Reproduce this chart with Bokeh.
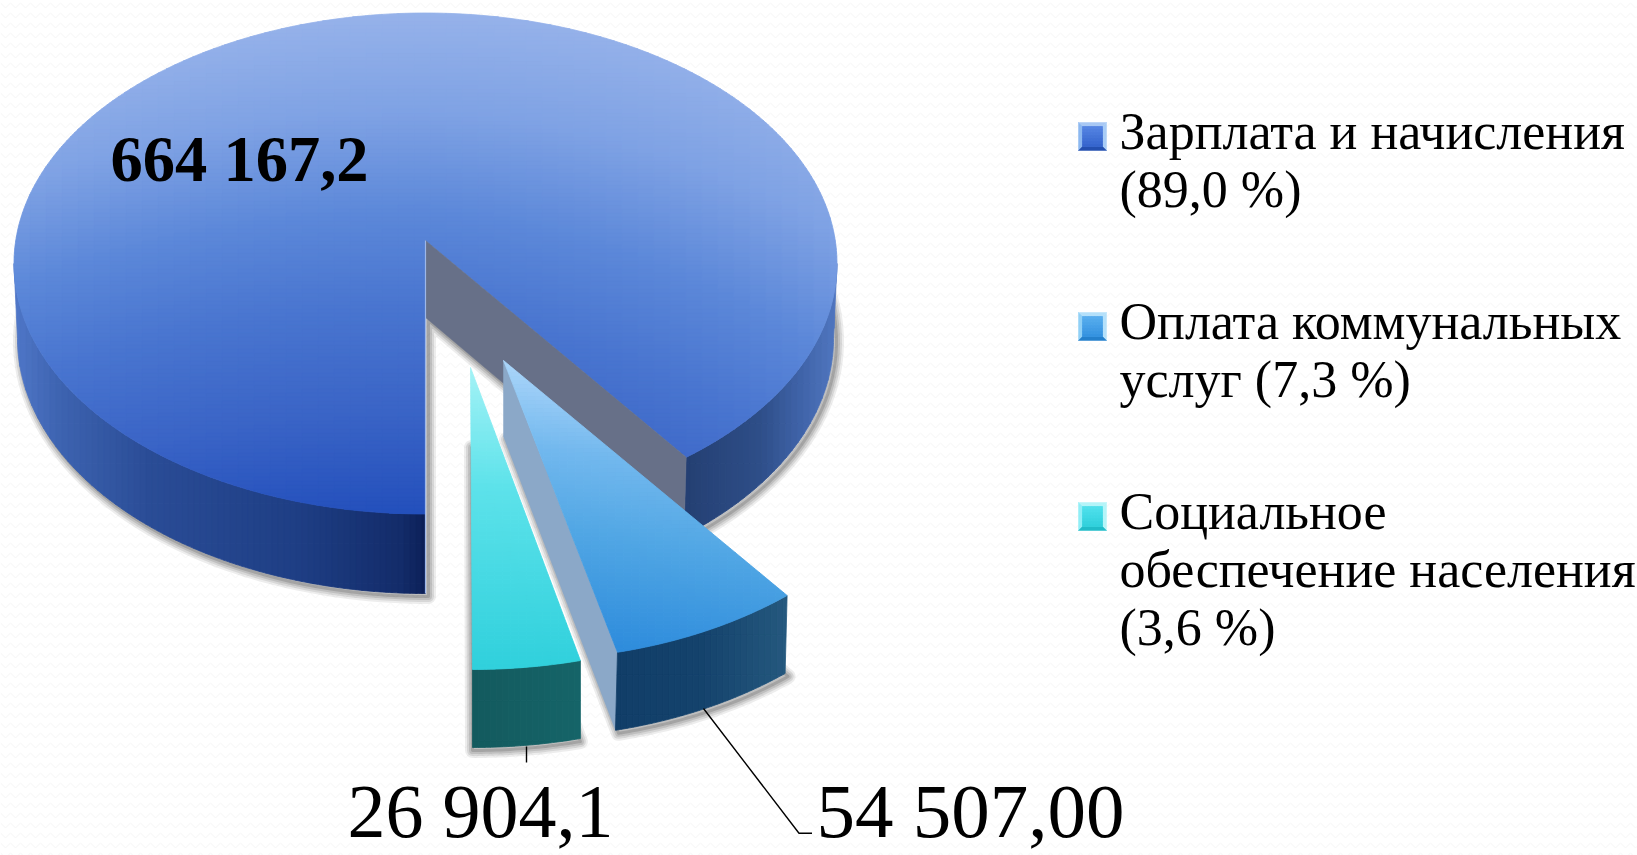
import numpy as np
from bokeh.plotting import figure
from bokeh.models import Range1d, ColumnDataSource
from bokeh.core.properties import value
from bokeh.embed import file_html
from bokeh.resources import INLINE

# ---------- data ----------
categories = ["Зарплата и начисления", "Оплата коммунальных услуг", "Социальное обеспечение населения"]
amounts = [664167.2, 54507.0, 26904.1]
value_labels = ["664 167,2", "54 507,00", "26 904,1"]
legend_lines = [["Зарплата и начисления", "(89,0 %)"],
                ["Оплата коммунальных", "услуг (7,3 %)"],
                ["Социальное", "обеспечение населения", "(3,6 %)"]]

FONT = "Liberation Serif"
total = sum(amounts)
th3 = amounts[2] / total * 360
th2 = th3 + amounts[1] / total * 360


# ---------- helpers ----------
def hex2rgb(h):
    return np.array([int(h[i:i + 2], 16) for i in (1, 3, 5)], float)


def ramp(stops):
    ts = [s[0] for s in stops]
    cs = np.array([hex2rgb(s[1]) for s in stops])

    def f(t):
        return "#%02x%02x%02x" % tuple(int(round(np.interp(t, ts, cs[:, i]))) for i in range(3))
    return f


def arc(cx, cy, rx, ry, a, b, n=90):
    t = np.radians(np.linspace(a, b, n))
    return list(zip(cx + rx * np.sin(t), cy + ry * np.cos(t)))


def clip_half(poly, axis, lim, keep_low):
    out = []
    for i in range(len(poly)):
        p, q = poly[i], poly[(i + 1) % len(poly)]
        pin = p[axis] <= lim if keep_low else p[axis] >= lim
        qin = q[axis] <= lim if keep_low else q[axis] >= lim
        if pin:
            out.append(p)
        if pin != qin:
            k = (lim - p[axis]) / (q[axis] - p[axis])
            out.append((p[0] + k * (q[0] - p[0]), p[1] + k * (q[1] - p[1])))
    return out


def shaded(p, poly, colorfn, cell=10, celly=None):
    celly = celly or cell
    xs, ys, cols = [], [], []
    pa = np.array(poly)
    x0, x1 = pa[:, 0].min(), pa[:, 0].max()
    y0, y1 = pa[:, 1].min(), pa[:, 1].max()
    for gx in np.arange(x0, x1, cell):
        col_poly = clip_half(clip_half(poly, 0, gx, False), 0, gx + cell, True)
        if len(col_poly) < 3:
            continue
        for gy in np.arange(y0, y1, celly):
            c = clip_half(clip_half(col_poly, 1, gy, False), 1, gy + celly, True)
            if len(c) < 3:
                continue
            xs.append([q[0] for q in c])
            ys.append([q[1] for q in c])
            cols.append(colorfn(gx + cell / 2, gy + celly / 2))
    src = ColumnDataSource(dict(xs=xs, ys=ys, c=cols))
    p.patches("xs", "ys", source=src, fill_color="c", line_color="c", line_width=0.8)


def shadow(p, poly, dx=3, dy=3):
    xs = [q[0] + dx for q in poly]
    ys = [q[1] + dy for q in poly]
    for w, a in ((15, 0.07), (11, 0.09), (7, 0.11), (3, 0.14)):
        p.patch(xs, ys, fill_alpha=0, line_color="#000000", line_alpha=a, line_width=w, line_join="round")


def flat(p, poly, color):
    p.patch([q[0] for q in poly], [q[1] for q in poly], fill_color=color, line_color=color, line_width=0.5)


BASE_FIX = 0.385


def label(p, x, y, lines, size, style="normal"):
    p.text([x] * len(lines), [yy - BASE_FIX * size for yy in y], text=lines, text_font=value(FONT),
           text_font_size=f"{size}px", text_font_style=style, text_color="#000000",
           text_baseline="alphabetic", text_align="left")


# ---------- figure ----------
p = figure(width=1637, height=855, x_range=Range1d(0, 1637), y_range=Range1d(855, 0),
           output_backend="svg", toolbar_location=None, min_border=0)
p.axis.visible = False
p.grid.visible = False
p.outline_line_color = None
p.background_fill_color = "#FFFFFF"
p.border_fill_color = "#FFFFFF"

p.quad(left=[0], right=[1637], top=[0], bottom=[855], fill_color="#FFFFFF", line_color=None,
       hatch_pattern="horizontal_wave", hatch_color="#F4F4F4", hatch_scale=10, hatch_weight=1)

# ---------- main slice ----------
M = dict(cx=425, cy=263, rx=411.5, ry=250.5)
B = dict(cx=425, cy=338, rx=408, ry=255)
m_apex = (425, 240)
m_base = (425, 317)
top_arc = arc(M["cx"], M["cy"], M["rx"], M["ry"], th2, 360, 240)
base_arc = arc(B["cx"], B["cy"], B["rx"], B["ry"], th2, 360, 240)
shadow(p, [m_base] + base_arc)

wl = ramp([(14, "#5077C8"), (60, "#3D63B0"), (150, "#2A4C96"), (300, "#1E3E84"), (400, "#132C6A"), (425, "#0C2058")])
wr = ramp([(684, "#243F72"), (760, "#2E4E88"), (800, "#3F63A8"), (836, "#5076C0")])
left_top = arc(M["cx"], M["cy"], M["rx"], M["ry"], 270, 360, 90)
left_bot = arc(B["cx"], B["cy"], B["rx"], B["ry"], 270, 360, 90)
shaded(p, left_top + left_bot[::-1], lambda x, y: wl(x), cell=6, celly=40)
right_top = arc(M["cx"], M["cy"], M["rx"], M["ry"], th2, 90, 60)
right_bot = arc(B["cx"], B["cy"], B["rx"], B["ry"], th2, 90, 60)
shaded(p, right_top + right_bot[::-1], lambda x, y: wr(x), cell=6, celly=40)

main_ramp = ramp([(0, "#96B2EA"), (0.2, "#7FA2E4"), (0.4, "#5C88D9"), (0.58, "#4A76D0"),
                  (0.8, "#3A64C6"), (1, "#2450BC")])


def main_color(x, y):
    u = (x - 425) / 411
    v = (y - 12) / 500
    return main_ramp(v - 0.15 * u ** 2 - 0.21 * max(u, 0) * v)


shaded(p, [m_apex] + top_arc, main_color, cell=16, celly=4)
flat(p, [m_apex, top_arc[0], base_arc[0], m_base], "#677088")
p.line([m_apex[0], top_arc[-1][0], base_arc[-1][0]], [m_apex[1], top_arc[-1][1], base_arc[-1][1]],
       line_color="#9DB7EA", line_width=1.2)

# ---------- slice 2 ----------
s2 = dict(cx=523.7, cy=376, rx=415, ry=283)
s2_apex = (503, 360)
s2_base = (503, 436)
s2_top = arc(s2["cx"], s2["cy"], s2["rx"], s2["ry"], th3, th2, 40)
s2_bot = [(x - 2, y + 78) for x, y in s2_top]
shadow(p, [s2_base] + s2_bot)
flat(p, [s2_apex, s2_top[0], s2_bot[0], s2_base], "#8BA8C8")
w2 = ramp([(615, "#113E68"), (700, "#14426C"), (787, "#25587E")])
shaded(p, s2_top + s2_bot[::-1], lambda x, y: w2(x), cell=6, celly=40)
r2 = ramp([(0, "#ACD6FA"), (0.3, "#72B8EE"), (0.6, "#50A6E4"), (1, "#2E8CDC")])
shaded(p, [s2_apex] + s2_top, lambda x, y: r2((y - 360 - 0.15 * (x - 503)) / 270), cell=8, celly=4)

# ---------- slice 3 ----------
s3 = dict(cx=472, cy=319, rx=480, ry=350)
s3_apex = (470, 367)
s3_base = (471, 444)
s3_top = arc(s3["cx"], s3["cy"], s3["rx"], s3["ry"], 0, th3, 24)
s3_bot = [(x, y + 78) for x, y in s3_top]
shadow(p, [s3_base] + s3_bot, dx=0, dy=3)
w3 = ramp([(472, "#135A5E"), (580, "#156468")])
shaded(p, s3_top + s3_bot[::-1], lambda x, y: w3(x), cell=6, celly=40)
r3 = ramp([(0, "#A4F2F6"), (0.4, "#5CE2EA"), (1, "#30D0DC")])
shaded(p, [s3_apex] + s3_top, lambda x, y: r3((y - 367) / 300), cell=8, celly=4)

# ---------- leaders ----------
p.line([526, 526], [746, 762], line_color="#000000", line_width=1.4)
p.line([703, 798.5, 811.5], [708, 832.7, 832.7], line_color="#000000", line_width=1.4)

# ---------- value labels ----------
label(p, 110, [184], [value_labels[0]], 64.5, "bold")
label(p, 347, [840], [value_labels[2]], 76)
label(p, 816, [840], [value_labels[1]], 77)

# ---------- legend ----------
leg_inner = [ramp([(0, "#5C8CE8"), (1, "#2E5EC8")]),
             ramp([(0, "#60B4F2"), (1, "#2C8CDC")]),
             ramp([(0, "#58E4F0"), (1, "#28CCD8")])]
leg_bevel = [("#A8C8F4", "#8CB8F0", "#A8CCF6", "#2450B0"),
             ("#B4E0FA", "#90D0F6", "#B4E0FA", "#2480CC"),
             ("#B4F4F8", "#90EEF6", "#B4F4F8", "#20BCC8")]
leg_y = [122, 312, 502]
line_step = 58
for i, lines in enumerate(legend_lines):
    y0 = leg_y[i]
    r = leg_inner[i]
    top_c, left_c, right_c, bot_c = leg_bevel[i]
    x0, x1, y1, b = 1078, 1106, y0 + 28, 4
    flat(p, [(x0, y0), (x1, y0), (x1 - b, y0 + b), (x0 + b, y0 + b)], top_c)
    flat(p, [(x0, y0), (x0 + b, y0 + b), (x0 + b, y1 - b), (x0, y1)], left_c)
    flat(p, [(x1, y0), (x1 - b, y0 + b), (x1 - b, y1 - b), (x1, y1)], right_c)
    flat(p, [(x0, y1), (x0 + b, y1 - b), (x1 - b, y1 - b), (x1, y1)], bot_c)
    sq = [(x0 + b, y0 + b), (x1 - b, y0 + b), (x1 - b, y1 - b), (x0 + b, y1 - b)]
    shaded(p, sq, lambda x, y, r=r, y0=y0: r((y - y0) / 28), cell=3)
    label(p, 1119, [y0 + 29 + k * line_step for k in range(len(lines))], lines, 52)

open("out.html", "w").write(file_html(p, INLINE))
